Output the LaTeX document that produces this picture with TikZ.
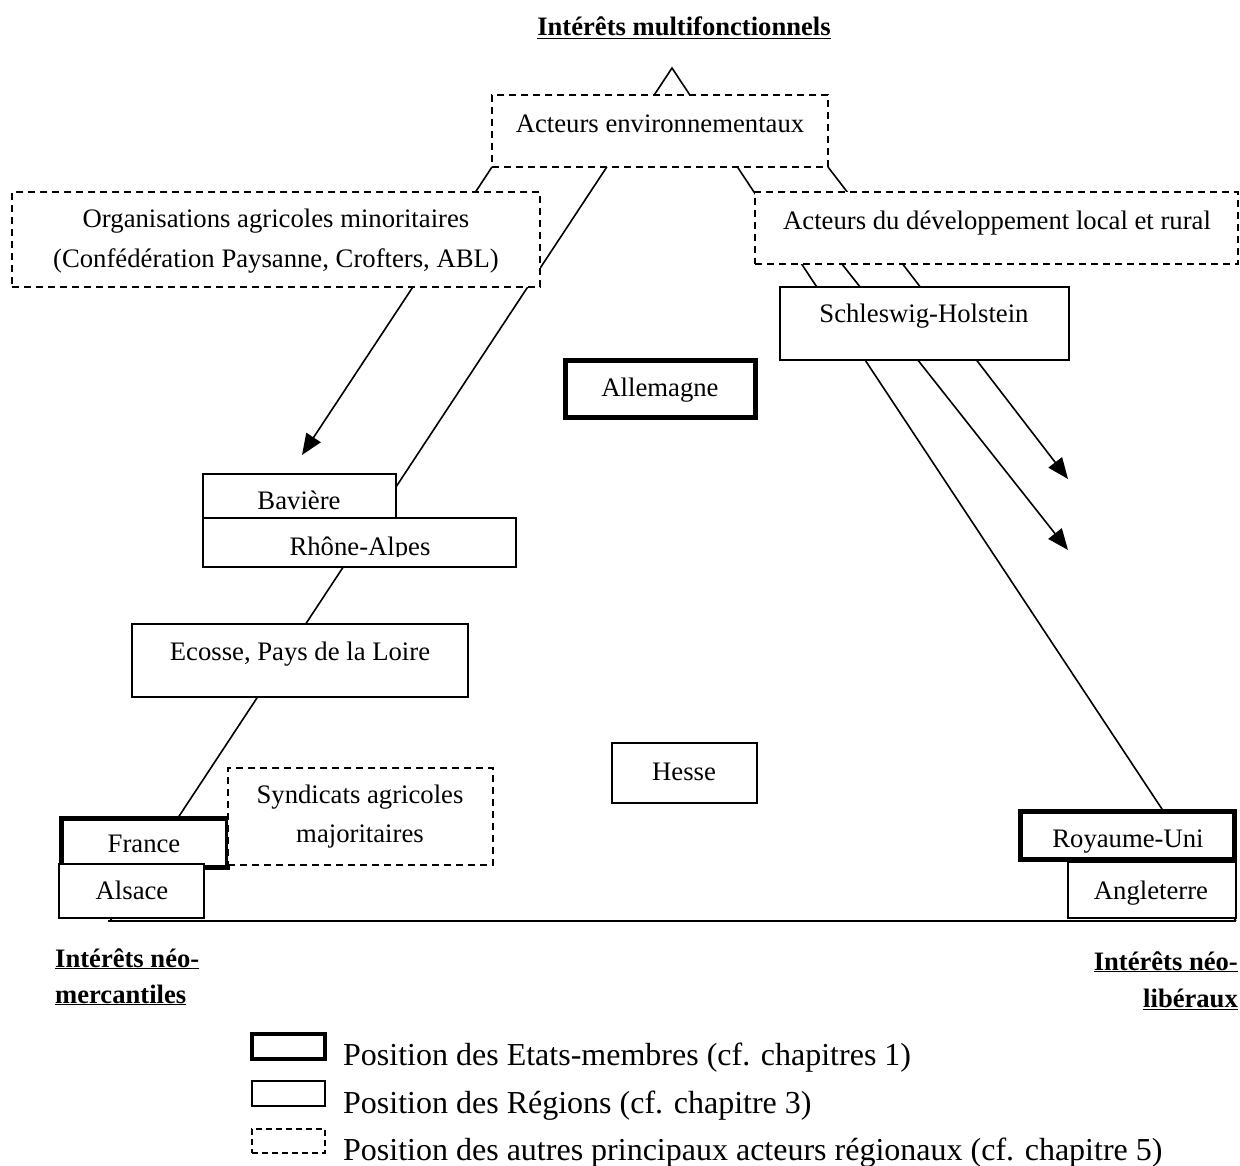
\documentclass[tikz,border=0pt]{standalone}
\usepackage{fontspec}
\setmainfont{Liberation Serif}
\usetikzlibrary{arrows.meta,fit}
\begin{document}
\begin{tikzpicture}[x=1pt,y=-1pt,
  ln/.style={line width=1.6pt},
  arr/.style={ln,-{Triangle[length=21pt,width=17pt]}},
  regbox/.style={draw,line width=1.6pt,fill=white,inner sep=0pt,outer sep=0pt},
  statebox/.style={draw,line width=5pt,fill=white,inner sep=0pt,outer sep=0pt},
  actbox/.style={draw,line width=1.6pt,dash pattern=on 7pt off 5pt,fill=white,inner sep=0pt,outer sep=0pt},
  txt/.style={inner sep=0pt,anchor=base,font=\fontsize{26.7}{40}\selectfont},
  lbl/.style={inner sep=0pt,font=\fontsize{26.6}{40}\selectfont\bfseries},
  leg/.style={inner sep=0pt,anchor=base west,font=\fontsize{32}{38}\selectfont},
]
\useasboundingbox (0,0) rectangle (1240,1166);

% geometry points
\coordinate (apex) at (672,68);
\coordinate (bl) at (108,921);
\coordinate (blt) at (110,921);
\coordinate (br) at (1236,921);
\coordinate (tipL) at (302,455);
\coordinate (tipR1) at (1068,479);
\coordinate (tipR2) at (1068,550);
\coordinate (m0) at (785,192);

% title
\node[lbl,anchor=base] (title) at (684,36) {\underline{Intérêts multifonctionnels}};

% triangle sides and connectors (behind boxes)
\draw[ln] (blt) -- (apex) -- (br);
\draw[ln] (bl) -- (br);
\draw[arr] (492,167) -- (tipL);
\draw[arr] (828,167) -- (tipR1);
\draw[arr] (m0) -- (tipR2);

% boxes
\node[actbox,fit={(492,95) (828,167)}] (env) {};
\node[txt] (envT) at (660,133) {Acteurs environnementaux};

\node[actbox,fit={(12,192) (540,287)}] (org) {};
\node[txt] (orgT1) at (276,228) {Organisations agricoles minoritaires};
\node[txt] (orgT2) at (276,268) {(Confédération Paysanne, Crofters, ABL)};

\node[actbox,fit={(755,192) (1238,264)}] (dev) {};
\node[txt] (devT) at (997,230) {Acteurs du développement local et rural};

\node[regbox,fit={(780,287) (1069,360)}] (sh) {};
\node[txt] (shT) at (924,323) {Schleswig-Holstein};

\node[statebox,fit={(565,361) (755,417)}] (allem) {};
\node[txt] (allemT) at (660,396) {Allemagne};

\node[regbox,fit={(203,474) (396,518)}] (bav) {};
\node[txt] (bavT) at (299,509) {Bavière};

\node[regbox,fit={(203,518) (516,567)}] (rhone) {};
\begin{scope}
  \clip (203,518) rectangle (516,556);
  \node[txt] (rhoneT) at (360,555) {Rhône-Alpes};
\end{scope}

\node[regbox,fit={(132,624) (468,697)}] (ecosse) {};
\node[txt] (ecosseT) at (300,660) {Ecosse, Pays de la Loire};

\node[regbox,fit={(612,743) (757,803)}] (hesse) {};
\node[txt] (hesseT) at (684,780) {Hesse};

\node[statebox,fit={(61.5,818.5) (227.5,867.5)}] (france) {};
\node[txt] (franceT) at (144,852) {France};

\node[actbox,fit={(228,768) (493,865)}] (synd) {};
\node[txt] (syndT1) at (360,803) {Syndicats agricoles};
\node[txt] (syndT2) at (360,842) {majoritaires};

\node[regbox,fit={(59,864) (204,918)}] (alsace) {};
\node[txt] (alsaceT) at (132,899) {Alsace};

\node[regbox,fit={(1068,862) (1236,918)}] (angl) {};
\node[txt] (anglT) at (1151,899) {Angleterre};

\node[statebox,fit={(1020.5,811.5) (1234.5,859.5)}] (ru) {};
\node[txt] (ruT) at (1128,847) {Royaume-Uni};

% pole labels
\node[lbl,anchor=base west] (neoM1) at (55,967) {\underline{Intérêts néo-}};
\node[lbl,anchor=base west] (neoM2) at (55,1003) {\underline{mercantiles}};
\node[lbl,anchor=base east] (neoL1) at (1238,970) {\underline{Intérêts néo-}};
\node[lbl,anchor=base east] (neoL2) at (1238,1007) {\underline{libéraux}};

% legend
\node[draw,line width=4pt,inner sep=0pt,fit={(252,1034) (325,1059)}] (legS) {};
\node[leg] (legST) at (343,1065) {Position des Etats-membres (cf. chapitres 1)};
\node[draw,line width=1.4pt,inner sep=0pt,fit={(252,1081) (325,1106)}] (legR) {};
\node[leg] (legRT) at (343,1113) {Position des Régions (cf. chapitre 3)};
\node[draw,line width=1.4pt,dash pattern=on 6pt off 4pt,inner sep=0pt,fit={(252,1129) (325,1153)}] (legA) {};
\node[leg] (legAT) at (343,1160) {Position des autres principaux acteurs régionaux (cf. chapitre 5)};
\end{tikzpicture}
\end{document}
